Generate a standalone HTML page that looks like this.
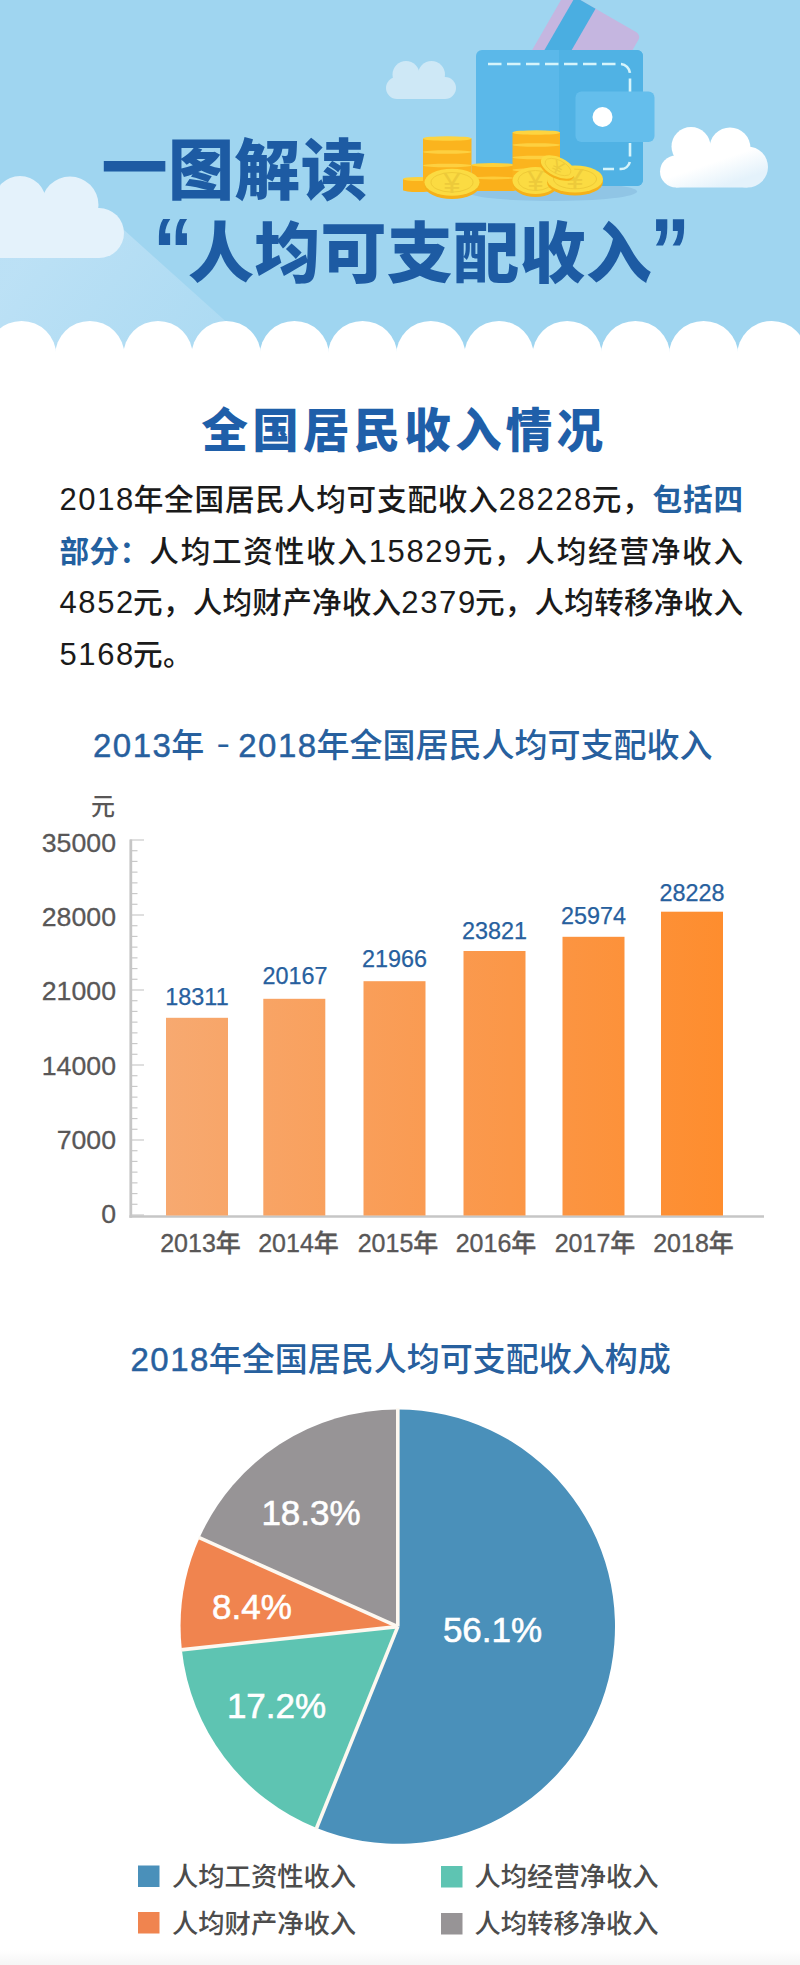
<!DOCTYPE html>
<html lang="zh-CN">
<head>
<meta charset="utf-8">
<title>一图解读“人均可支配收入”</title>
<style>
html,body{margin:0;padding:0;background:#fff;}
body{width:800px;height:1965px;overflow:hidden;font-family:"Liberation Sans","Noto Sans CJK SC",sans-serif;}
#page{position:relative;width:800px;height:1965px;overflow:hidden;background:#fff;}
.abs{position:absolute;white-space:nowrap;}
#hero{position:absolute;left:0;top:0;width:800px;height:400px;display:block;}
.h1{position:absolute;white-space:nowrap;font-family:"Liberation Sans","Noto Sans CJK SC",sans-serif;font-weight:900;color:#1d5ba3;line-height:1;}
#h1a{left:101.5px;top:138px;font-size:66px;letter-spacing:0.4px;}
#h1b{left:188px;top:221px;font-size:66px;letter-spacing:0.3px;}
.q{position:absolute;font-weight:700;font-size:92px;line-height:1;color:#1d5ba3;font-family:"Liberation Sans",sans-serif;transform-origin:0 0;}
#q1{left:152.5px;top:205.2px;transform:scaleX(0.87);}
#q2{left:650.3px;top:205.2px;transform:scaleX(0.87);}
#sec{left:201.5px;top:401px;font-weight:900;font-size:46.5px;line-height:60px;color:#1f5fa9;letter-spacing:4.2px;}
#para{position:absolute;left:59.5px;top:474px;width:683.5px;height:210px;font-size:29.6px;line-height:51.7px;color:#1a1a1a;font-weight:500;}
.n{font-size:31px;letter-spacing:1.6px;margin-right:-2px;}
.m{letter-spacing:1.5px;margin-right:-1.2px;-webkit-text-stroke:0.45px #27609e;}
.dash{display:inline-block;width:34px;text-align:center;font-size:12.5px;font-weight:900;vertical-align:top;position:relative;top:1.5px;left:2px;-webkit-text-stroke:1.1px #27609e;}
.ln{position:absolute;left:0;width:100%;white-space:nowrap;text-align:justify;text-align-last:justify;text-justify:inter-character;}
#para b{color:#23609f;font-weight:700;}
#ct1{left:93px;top:723.5px;font-size:33px;line-height:44px;color:#27609e;font-weight:500;}
#ct2{left:130.5px;top:1337.5px;font-size:33px;line-height:44px;color:#27609e;font-weight:500;}
#bars{position:absolute;left:0;top:780px;width:800px;height:500px;}
#pie{position:absolute;left:0;top:1390px;width:800px;height:575px;}
svg text{font-family:"Liberation Sans","Noto Sans CJK SC",sans-serif;}
</style>
</head>
<body>
<div id="page">

<svg id="hero" width="800" height="400" viewBox="0 0 800 400">
<defs>
<linearGradient id="shg" gradientUnits="userSpaceOnUse" x1="60" y1="215" x2="230" y2="345">
<stop offset="0" stop-color="#bfe2f6" stop-opacity="0.9"/><stop offset="1" stop-color="#b5def4" stop-opacity="0.6"/>
</linearGradient>
<linearGradient id="rcg" gradientUnits="userSpaceOnUse" x1="700" y1="155" x2="712" y2="190">
<stop offset="0.3" stop-color="#ffffff"/><stop offset="1" stop-color="#e4f2fb"/>
</linearGradient>
<linearGradient id="coinside" x1="0" y1="0" x2="1" y2="0">
<stop offset="0" stop-color="#fdb91f"/><stop offset="1" stop-color="#f9ab18"/>
</linearGradient>
</defs>
<rect x="0" y="0" width="800" height="362" fill="#9fd5f0"/>
<!-- long shadow of left cloud -->
<polygon points="0,258 0,215 100,212 124,230 271,362 0,362" fill="url(#shg)"/>
<!-- left cloud -->
<g fill="#e4f2fb">
<circle cx="20" cy="202" r="26"/><circle cx="70" cy="205" r="28.5"/>
<rect x="-40" y="208" width="164" height="50" rx="25"/>
</g>
<!-- small cloud -->
<g fill="#cee8f6">
<circle cx="406" cy="74.5" r="13.5"/><circle cx="431.5" cy="74.5" r="13.5"/>
<rect x="386" y="77" width="70" height="22" rx="11"/>
</g>
<!-- right cloud -->
<g fill="url(#rcg)">
<circle cx="676" cy="171.500" r="16"/><circle cx="691" cy="146.500" r="19.500"/><circle cx="730" cy="148" r="20.500"/><circle cx="747.500" cy="167" r="20.500"/>
<rect x="676" y="150" width="71.500" height="37.500"/>
</g>
<!-- ground shadow -->
<ellipse cx="552" cy="191.500" rx="85" ry="9.500" fill="#90c5e5"/>
<!-- card -->
<g transform="translate(565.85 -8.4) rotate(30)">
<rect x="0" y="0" width="87" height="85" rx="5.5" fill="#c5b6e0"/>
<rect x="10.700" y="0" width="23.600" height="85" fill="#4aaee1"/>
</g>
<!-- wallet -->
<rect x="476" y="50" width="167" height="136" rx="6" fill="#5bb8e9"/>
<path d="M559,50 h78 a6,6 0 0 1 6,6 v124 a6,6 0 0 1 -6,6 h-78 z" fill="#50b2e4"/>
<path d="M488,64 H620 a10,10 0 0 1 10,10 V92" fill="none" stroke="#d5f4fb" stroke-width="2.600" stroke-dasharray="13.500 5.500"/>
<path d="M630,143 V160 a9,9 0 0 1 -9,9 H603" fill="none" stroke="#d5f4fb" stroke-width="2.600" stroke-dasharray="13.500 5.500"/>
<rect x="575.500" y="91.500" width="79" height="50.500" rx="6" fill="#64beec"/>
<circle cx="602.500" cy="117" r="10" fill="#ffffff"/>
<!-- coins -->
<g id="coins">
<!-- low left coin -->
<path d="M403,179 h30 v11 a15,2 0 0 1 -30,0 z" fill="#fbb31c"/><ellipse cx="418" cy="179" rx="15" ry="2" fill="#fdd23c"/>
<!-- left stack -->
<rect x="423" y="138.500" width="48.500" height="45" fill="#fbb41e"/>
<ellipse cx="447.250" cy="138.500" rx="24.250" ry="2.300" fill="#fdd440"/>
<ellipse cx="447.250" cy="152" rx="24.250" ry="1.800" fill="#fdd040"/>
<ellipse cx="447.250" cy="165.500" rx="24.250" ry="1.800" fill="#fdd040"/>
<!-- middle stack -->
<rect x="471.500" y="165" width="43" height="26" fill="#fab01b"/>
<ellipse cx="493" cy="165" rx="21.500" ry="2" fill="#fdd13c"/>
<ellipse cx="493" cy="178" rx="21.500" ry="1.500" fill="#fdcc3a"/>
<!-- right stack -->
<rect x="512.500" y="132.500" width="47.500" height="58" fill="#fbb41e"/>
<ellipse cx="536.250" cy="132.500" rx="23.750" ry="2.300" fill="#fdd440"/>
<ellipse cx="536.250" cy="145" rx="23.750" ry="1.800" fill="#fdd040"/>
<ellipse cx="536.250" cy="157.500" rx="23.750" ry="1.800" fill="#fdd040"/>
<ellipse cx="536.250" cy="170" rx="23.750" ry="1.800" fill="#fdd040"/>
<!-- flat coin mid -->
<g>
<ellipse cx="535.500" cy="183.500" rx="23" ry="13.500" fill="#f5b11a"/>
<ellipse cx="535.500" cy="180.500" rx="23" ry="13.500" fill="#fbdb42"/>
<ellipse cx="535.500" cy="180.500" rx="17.500" ry="10" fill="none" stroke="#efca36" stroke-width="1"/>
<text transform="translate(535.500 180.500) scale(1.250 1.250)" x="0" y="8.300" font-size="23" text-anchor="middle" fill="#edca3a">¥</text>
</g>
<!-- flat coin right -->
<g>
<ellipse cx="575" cy="182" rx="28" ry="13.500" fill="#f5b11a"/>
<ellipse cx="575" cy="179" rx="28" ry="13.500" fill="#fbdb42"/>
<ellipse cx="575" cy="179" rx="21.500" ry="9.800" fill="none" stroke="#efca36" stroke-width="1"/>
<text transform="translate(575 179) scale(1.350 1.250)" x="0" y="8.300" font-size="23" text-anchor="middle" fill="#edca3a">¥</text>
</g>
<!-- small tilted coin -->
<g transform="rotate(26 558 167)">
<ellipse cx="558" cy="169.300" rx="18.500" ry="9.500" fill="#f5b11a"/>
<ellipse cx="558" cy="167" rx="18.500" ry="9.500" fill="#fbdb42"/>
<ellipse cx="558" cy="167" rx="14" ry="6.800" fill="none" stroke="#efca36" stroke-width="0.800"/>
<text transform="translate(558 167) scale(1.250 1.150)" x="0" y="5.800" font-size="16" text-anchor="middle" fill="#edca3a">¥</text>
</g>
<!-- flat coin left -->
<g>
<ellipse cx="452" cy="185.500" rx="27.500" ry="13.500" fill="#f5b11a"/>
<ellipse cx="452" cy="182.300" rx="27.500" ry="13.500" fill="#fbdb42"/>
<ellipse cx="452" cy="182.300" rx="21" ry="9.800" fill="none" stroke="#efca36" stroke-width="1"/>
<text transform="translate(452 182.300) scale(1.350 1.250)" x="0" y="8.300" font-size="23" text-anchor="middle" fill="#edca3a">¥</text>
</g>
</g>
<!-- scallops -->
<g fill="#ffffff">
<rect x="0" y="354" width="800" height="46"/>
<circle cx="21.6" cy="355.6" r="34.7"/><circle cx="89.8" cy="355.6" r="34.7"/><circle cx="158.0" cy="355.6" r="34.7"/><circle cx="226.2" cy="355.6" r="34.7"/><circle cx="294.4" cy="355.6" r="34.7"/><circle cx="362.6" cy="355.6" r="34.7"/><circle cx="430.8" cy="355.6" r="34.7"/><circle cx="499.0" cy="355.6" r="34.7"/><circle cx="567.2" cy="355.6" r="34.7"/><circle cx="635.4" cy="355.6" r="34.7"/><circle cx="703.6" cy="355.6" r="34.7"/><circle cx="771.8" cy="355.6" r="34.7"/>
</g>
</svg>


<div class="h1" id="h1a"><span style="position:relative;top:-2px">一</span>图解读</div>
<div class="q" id="q1">“</div><div class="h1" id="h1b">人均可支配收入</div><div class="q" id="q2">”</div>

<div class="abs" id="sec">全国居民收入情况</div>

<div id="para">
<div class="ln" style="top:0"><span class="n">2018</span>年全国居民人均可支配收入<span class="n">28228</span>元，<b>包括四</b></div>
<div class="ln" style="top:51.7px"><b style="letter-spacing:-1.4px">部分：</b>人均工资性收入<span class="n">15829</span>元，人均经营净收入</div>
<div class="ln" style="top:103.4px"><span class="n">4852</span>元，人均财产净收入<span class="n">2379</span>元，人均转移净收入</div>
<div class="ln" style="top:155.1px;text-align-last:left;letter-spacing:0.5px"><span class="n">5168</span>元。</div>
</div>

<div class="abs" id="ct1"><span class="m">2013</span>年<span class="dash">－</span><span class="m">2018</span>年全国居民人均可支配收入</div>

<!--BARS_S--><svg id="bars" width="800" height="500" viewBox="0 780 800 500">
<defs><linearGradient id="bg" gradientUnits="userSpaceOnUse" x1="166" y1="0" x2="723" y2="0"><stop offset="0" stop-color="#f7a970"/><stop offset="0.5" stop-color="#fa9a50"/><stop offset="1" stop-color="#fe8d2e"/></linearGradient></defs>
<text x="115" y="815" font-size="24" text-anchor="end" fill="#595757" font-weight="500">元</text>
<g stroke="#c9c9c9" stroke-width="1.200" fill="none">
<line x1="130" y1="1215.00" x2="144.0" y2="1215.00"/>
<line x1="130" y1="1204.29" x2="137.5" y2="1204.29"/>
<line x1="130" y1="1193.57" x2="137.5" y2="1193.57"/>
<line x1="130" y1="1182.86" x2="137.5" y2="1182.86"/>
<line x1="130" y1="1172.14" x2="137.5" y2="1172.14"/>
<line x1="130" y1="1161.43" x2="137.5" y2="1161.43"/>
<line x1="130" y1="1150.71" x2="137.5" y2="1150.71"/>
<line x1="130" y1="1140.00" x2="144.0" y2="1140.00"/>
<line x1="130" y1="1129.29" x2="137.5" y2="1129.29"/>
<line x1="130" y1="1118.57" x2="137.5" y2="1118.57"/>
<line x1="130" y1="1107.86" x2="137.5" y2="1107.86"/>
<line x1="130" y1="1097.14" x2="137.5" y2="1097.14"/>
<line x1="130" y1="1086.43" x2="137.5" y2="1086.43"/>
<line x1="130" y1="1075.71" x2="137.5" y2="1075.71"/>
<line x1="130" y1="1065.00" x2="144.0" y2="1065.00"/>
<line x1="130" y1="1054.29" x2="137.5" y2="1054.29"/>
<line x1="130" y1="1043.57" x2="137.5" y2="1043.57"/>
<line x1="130" y1="1032.86" x2="137.5" y2="1032.86"/>
<line x1="130" y1="1022.14" x2="137.5" y2="1022.14"/>
<line x1="130" y1="1011.43" x2="137.5" y2="1011.43"/>
<line x1="130" y1="1000.71" x2="137.5" y2="1000.71"/>
<line x1="130" y1="990.00" x2="144.0" y2="990.00"/>
<line x1="130" y1="979.29" x2="137.5" y2="979.29"/>
<line x1="130" y1="968.57" x2="137.5" y2="968.57"/>
<line x1="130" y1="957.86" x2="137.5" y2="957.86"/>
<line x1="130" y1="947.14" x2="137.5" y2="947.14"/>
<line x1="130" y1="936.43" x2="137.5" y2="936.43"/>
<line x1="130" y1="925.71" x2="137.5" y2="925.71"/>
<line x1="130" y1="915.00" x2="144.0" y2="915.00"/>
<line x1="130" y1="904.29" x2="137.5" y2="904.29"/>
<line x1="130" y1="893.57" x2="137.5" y2="893.57"/>
<line x1="130" y1="882.86" x2="137.5" y2="882.86"/>
<line x1="130" y1="872.14" x2="137.5" y2="872.14"/>
<line x1="130" y1="861.43" x2="137.5" y2="861.43"/>
<line x1="130" y1="850.71" x2="137.5" y2="850.71"/>
<line x1="130" y1="840.00" x2="144.0" y2="840.00"/>
</g>
<line x1="130.800" y1="839.500" x2="130.800" y2="1217.800" stroke="#c6c6c6" stroke-width="2.800"/>
<line x1="129.400" y1="1216.500" x2="764" y2="1216.500" stroke="#c6c6c6" stroke-width="2.600"/>
<g font-size="26.700" text-anchor="end" fill="#595757" stroke="#595757" stroke-width="0.300">
<text x="116" y="1223.2">0</text>
<text x="116" y="1148.9">7000</text>
<text x="116" y="1074.6">14000</text>
<text x="116" y="1000.3">21000</text>
<text x="116" y="926.0">28000</text>
<text x="116" y="851.7">35000</text>
</g>
<g fill="url(#bg)">
<rect x="166" y="1017.8" width="62" height="197.7"/>
<rect x="263.300" y="998.8" width="62" height="216.7"/>
<rect x="363.5" y="981.2" width="62" height="234.3"/>
<rect x="463.5" y="951.0" width="62" height="264.5"/>
<rect x="562.5" y="936.8" width="62" height="278.7"/>
<rect x="661" y="911.7" width="62" height="303.8"/>
</g>
<g font-size="23.400" text-anchor="middle" fill="#27609e" stroke="#27609e" stroke-width="0.250">
<text x="197.0" y="1005">18311</text>
<text x="295.0" y="984.4">20167</text>
<text x="394.5" y="966.8">21966</text>
<text x="494.5" y="938.8">23821</text>
<text x="593.5" y="923.8">25974</text>
<text x="692.0" y="900.5">28228</text>
</g>
<g font-size="25" text-anchor="middle" fill="#595757" stroke="#595757" stroke-width="0.350" font-weight="500">
<text x="200.5" y="1251.500">2013年</text>
<text x="298.5" y="1251.500">2014年</text>
<text x="398.0" y="1251.500">2015年</text>
<text x="496.0" y="1251.500">2016年</text>
<text x="595.0" y="1251.500">2017年</text>
<text x="693.5" y="1251.500">2018年</text>
</g>
</svg><!--BARS_E-->

<div class="abs" id="ct2"><span class="m">2018</span>年全国居民人均可支配收入构成</div>

<!--PIE_S--><svg id="pie" width="800" height="575" viewBox="0 1390 800 575">
<path d="M397.8,1626.6 L397.80,1409.40 A217.2,217.2 0 1 1 316.58,1828.04 Z" fill="#4a90ba"/>
<path d="M397.8,1626.6 L316.58,1828.04 A217.2,217.2 0 0 1 181.84,1649.76 Z" fill="#5ec4b2"/>
<path d="M397.8,1626.6 L181.84,1649.76 A217.2,217.2 0 0 1 199.56,1537.84 Z" fill="#f0844f"/>
<path d="M397.8,1626.6 L199.56,1537.84 A217.2,217.2 0 0 1 397.80,1409.40 Z" fill="#979496"/>
<g stroke="#fdf8f0" stroke-width="3.600" stroke-linecap="butt">
<line x1="397.8" y1="1626.6" x2="397.80" y2="1408.40"/>
<line x1="397.8" y1="1626.6" x2="316.20" y2="1828.97"/>
<line x1="397.8" y1="1626.6" x2="180.84" y2="1649.86"/>
<line x1="397.8" y1="1626.6" x2="198.65" y2="1537.43"/>
</g>
<g font-size="35" fill="#ffffff" text-anchor="middle" stroke="#ffffff" stroke-width="0.600">
<text x="492.500" y="1642">56.1%</text>
<text x="311" y="1525">18.3%</text>
<text x="252" y="1619">8.4%</text>
<text x="276.500" y="1718">17.2%</text>
</g>
<rect x="138" y="1865.500" width="21.500" height="21.500" fill="#4a90ba"/>
<rect x="138" y="1912" width="21.500" height="21.500" fill="#f0844f"/>
<rect x="441" y="1866" width="21.500" height="21.500" fill="#5ec4b2"/>
<rect x="441" y="1913" width="21.500" height="21.500" fill="#979496"/>
<g font-size="26.300" fill="#4c4c4c" font-weight="500">
<text x="172" y="1886">人均工资性收入</text>
<text x="172" y="1933">人均财产净收入</text>
<text x="474.500" y="1886">人均经营净收入</text>
<text x="474.500" y="1933">人均转移净收入</text>
</g>
</svg><!--PIE_E-->
<div style="position:absolute;left:0;top:1950px;width:800px;height:15px;background:linear-gradient(to bottom,rgba(246,246,246,0),#f5f5f5)"></div>

</div>
</body>
</html>
